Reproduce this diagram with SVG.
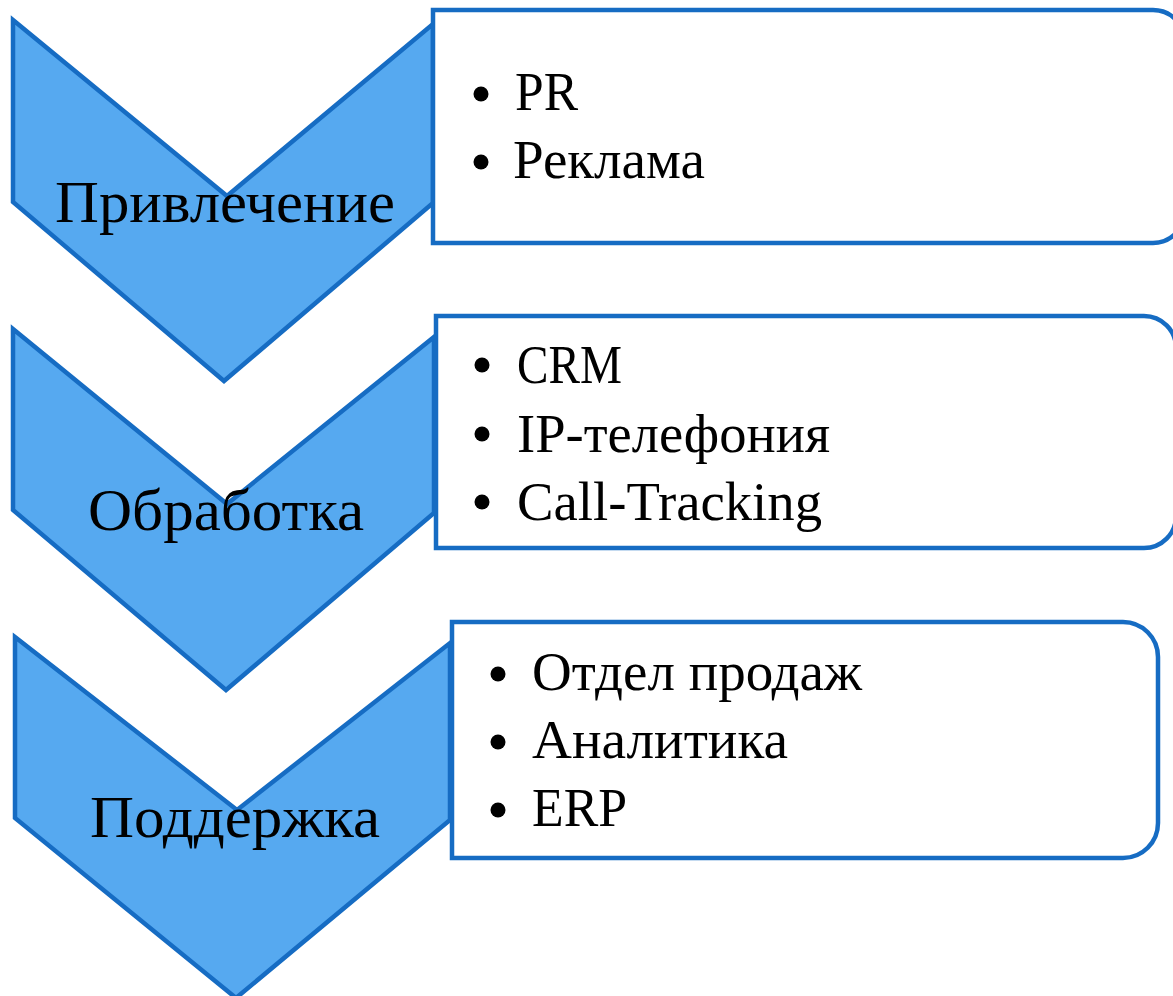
<svg xmlns="http://www.w3.org/2000/svg" width="1173" height="996" viewBox="0 0 1173 996">
  <style>
    .chev { fill: #56A9F0; stroke: #166CC3; stroke-width: 4.5; stroke-linejoin: miter; }
    .box { fill: #FFFFFF; stroke: #166CC3; stroke-width: 4.5; stroke-linejoin: miter; }
    .lbl { font-family: "Liberation Serif", "Times New Roman", serif; font-size: 60px; fill: #000; }
    .item { font-family: "Liberation Serif", "Times New Roman", serif; font-size: 55px; fill: #000; }
    .bul { fill: #000; }
  </style>
  <rect width="1173" height="996" fill="#FFFFFF"/>

  <g id="connectors"></g>

  <g id="node-privlechenie">
    <path class="chev" d="M13,20 L227,196 L433,24 L433,203 L224,381 L13,202 Z"/>
    <text class="lbl" x="55" y="222" textLength="340" lengthAdjust="spacingAndGlyphs">Привлечение</text>
  </g>
  <g id="node-obrabotka">
    <path class="chev" d="M13,329 L227,504 L434,337 L434,513 L226,690 L13,510 Z"/>
    <text class="lbl" x="88" y="530" textLength="276" lengthAdjust="spacingAndGlyphs">Обработка</text>
  </g>
  <g id="node-podderzhka">
    <path class="chev" d="M15,637 L237,810 L450,643 L450,820 L236,998 L15,818 Z"/>
    <text class="lbl" x="90" y="837" textLength="290" lengthAdjust="spacingAndGlyphs">Поддержка</text>
  </g>

  <g id="box-privlechenie">
    <path class="box" d="M433,10 H1153 A32,32 0 0 1 1185,42 V211 A32,32 0 0 1 1153,243 H433 Z"/>
    <circle class="bul" cx="481" cy="94" r="7.5"/>
    <text class="item" x="515" y="110" textLength="63" lengthAdjust="spacingAndGlyphs">PR</text>
    <circle class="bul" cx="481" cy="162" r="7.5"/>
    <text class="item" x="513" y="178" textLength="192" lengthAdjust="spacingAndGlyphs">Реклама</text>
  </g>
  <g id="box-obrabotka">
    <path class="box" d="M436,316 H1144 A32,32 0 0 1 1176,348 V516 A32,32 0 0 1 1144,548 H436 Z"/>
    <circle class="bul" cx="482" cy="365" r="7.5"/>
    <text class="item" x="517" y="383" textLength="105" lengthAdjust="spacingAndGlyphs">CRM</text>
    <circle class="bul" cx="482" cy="434" r="7.5"/>
    <text class="item" x="517" y="452" textLength="313" lengthAdjust="spacingAndGlyphs">IP-телефония</text>
    <circle class="bul" cx="482" cy="502" r="7.5"/>
    <text class="item" x="517" y="520" textLength="305" lengthAdjust="spacingAndGlyphs">Call-Tracking</text>
  </g>
  <g id="box-podderzhka">
    <path class="box" d="M452,622 H1123 A35,35 0 0 1 1158,657 V823 A35,35 0 0 1 1123,858 H452 Z"/>
    <circle class="bul" cx="498" cy="674" r="7.5"/>
    <text class="item" x="532" y="690" textLength="330" lengthAdjust="spacingAndGlyphs">Отдел продаж</text>
    <circle class="bul" cx="498" cy="742" r="7.5"/>
    <text class="item" x="532" y="758" textLength="256" lengthAdjust="spacingAndGlyphs">Аналитика</text>
    <circle class="bul" cx="498" cy="810" r="7.5"/>
    <text class="item" x="532" y="826" textLength="95" lengthAdjust="spacingAndGlyphs">ERP</text>
  </g>
</svg>
